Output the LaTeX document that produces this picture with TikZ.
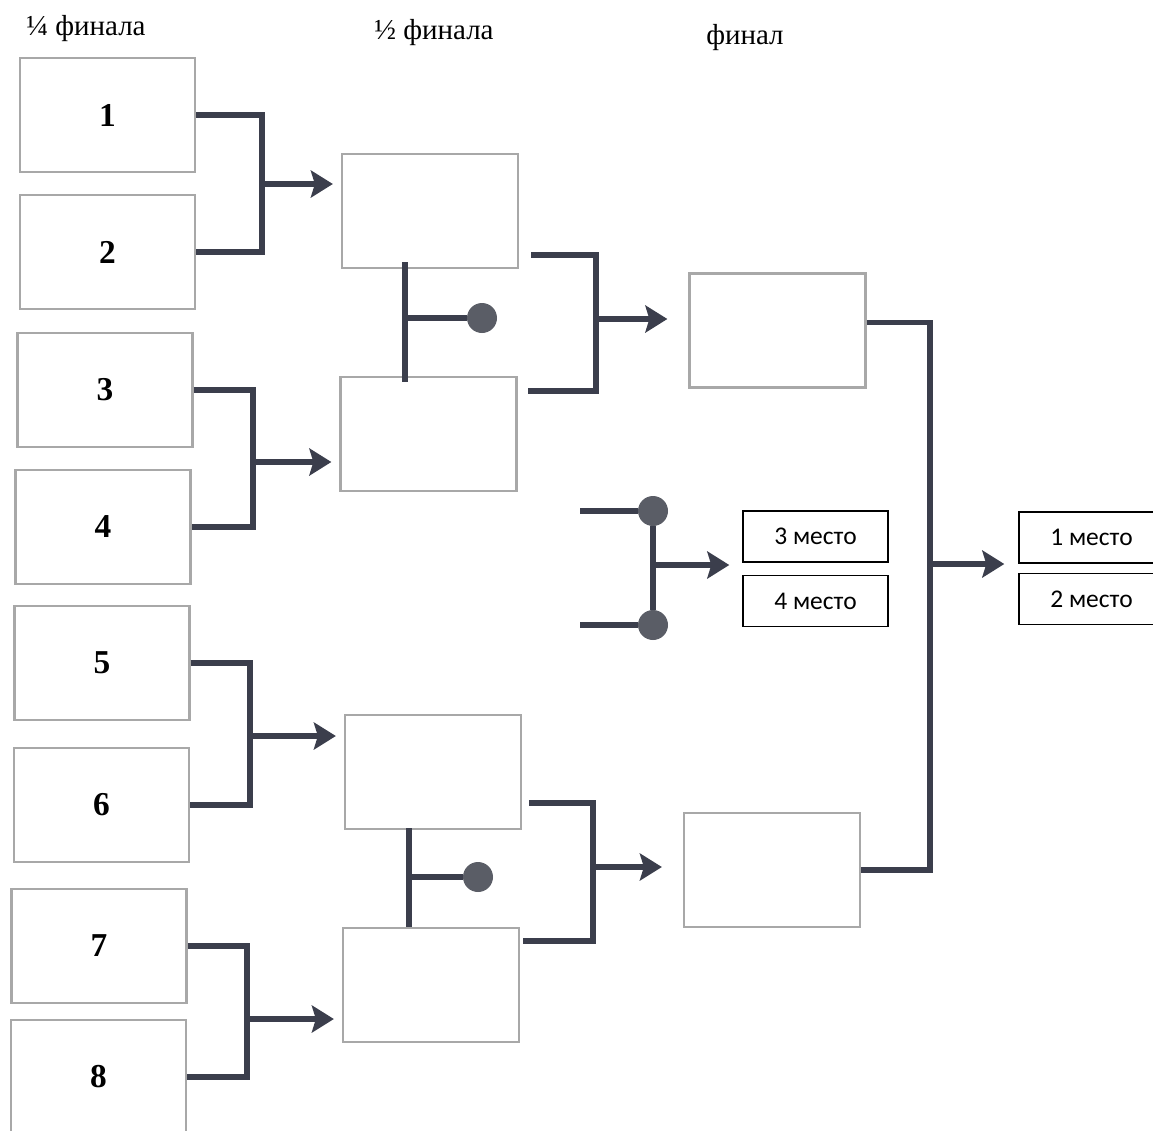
\documentclass[tikz,border=0pt]{standalone}
\usepackage{fontspec}
\setmainfont{Liberation Serif}
\newfontfamily\placefont{Carlito}
\usetikzlibrary{arrows.meta}

\definecolor{linkcol}{HTML}{3B3E4C}
\definecolor{dotcol}{HTML}{5A5D66}
\definecolor{boxcol}{HTML}{A8A8A8}

\begin{document}
\begin{tikzpicture}[x=0.02cm, y=-0.02cm,
    team/.style={draw=boxcol, line width=1.3pt, minimum width=3.5cm, minimum height=2.28cm,
        inner sep=0pt, font=\fontsize{19}{19}\selectfont\bfseries},
    slot/.style={draw=boxcol, line width=1.3pt, minimum width=3.52cm, minimum height=2.28cm, inner sep=0pt},
    place/.style={draw=black, line width=0.8pt, minimum width=2.9cm, minimum height=1.02cm,
        inner sep=0pt, font=\placefont\fontsize{14.5}{14.5}\selectfont},
    head/.style={font=\fontsize{16.5}{16.5}\selectfont},
    link/.style={draw=linkcol, line width=3.1pt},
    arr/.style={link, -{Stealth[length=0.44cm, width=0.54cm, inset=0.08cm]}},
    ball/.style={circle, fill=dotcol, minimum size=0.6cm, inner sep=0pt}]
        \useasboundingbox (0,0) rectangle (1153,1130);

        % headings
        \node[head] (H1) at (86,29) {¼ финала};
        \node[head] (H2) at (434,33) {½ финала};
        \node[head] (H3) at (745,38) {финал};

        % quarter-finals
        \node[team] (Q1) at (107.5,115) {1};
        \node[team] (Q2) at (107.5,252) {2};
        \node[team] (Q3) at (105,390) {3};
        \node[team] (Q4) at (103,527) {4};
        \node[team] (Q5) at (102,663) {5};
        \node[team] (Q6) at (101.5,805) {6};
        \node[team] (Q7) at (99,946) {7};
        \node[team] (Q8) at (98.5,1077) {8};

        % semi-finals and final
        \node[slot] (S1) at (430,211) {};
        \node[slot] (S2) at (428.5,434) {};
        \node[slot] (S3) at (433,772) {};
        \node[slot] (S4) at (431,985) {};
        \node[slot] (F1) at (777.5,330.5) {};
        \node[slot] (F2) at (772,870) {};

        % places
        \node[place] (P3) at (815.5,536.5) {3 место};
        \node[place] (P4) at (815.5,601) {4 место};
        \node[place] (P1) at (1091.5,537.5) {1 место};
        \node[place] (P2) at (1091.5,599) {2 место};

        % junctions
        \coordinate (J1) at (262,184);
        \coordinate (J2) at (253,462);
        \coordinate (J3) at (250,736);
        \coordinate (J4) at (247,1019);
        \coordinate (K1) at (596,319);
        \coordinate (K2) at (593,867);
        \coordinate (M) at (930,564);

        \draw[link] (Q1.east) -| (J1) |- (Q2.east);
        \draw[link] (Q3.east) -| (J2) |- (Q4.east);
        \draw[link] (Q5.east) -| (J3) |- (Q6.east);
        \draw[link] (Q7.east) -| (J4) |- (Q8.east);
        \draw[arr, shorten >=0.16cm] (J1) -- (J1 -| S1.west);
        \draw[arr, shorten >=0.16cm] (J2) -- (J2 -| S2.west);
        \draw[arr, shorten >=0.16cm] (J3) -- (J3 -| S3.west);
        \draw[arr, shorten >=0.16cm] (J4) -- (J4 -| S4.west);

        \draw[link] ([shift={(12,-14)}]S1.south east) -| (K1) |- ([shift={(10,15)}]S2.north east);
        \draw[link] ([shift={(7,-27)}]S3.south east) -| (K2) |- ([shift={(3,14)}]S4.north east);
        \draw[arr, shorten >=0.42cm] (K1) -- (K1 -| F1.west);
        \draw[arr, shorten >=0.42cm] (K2) -- (K2 -| F2.west);

        \draw[link] ([shift={(0,-8)}]F1.east) -| (M) |- (F2.east);
        \draw[arr, shorten >=0.28cm] (M) -- (M -| P1.west);

        % losers of the semi-finals
        \node[ball] (D1) at (482,318) {};
        \node[ball] (D2) at (478,877) {};
        \coordinate (V1a) at (405,262);
        \coordinate (V1b) at (405,382);
        \coordinate (V2a) at (409,828);
        \coordinate (V2b) at (409,927);
        \draw[link] (V1a) -- (V1b);
        \draw[link] (V1a |- D1) -- (D1);
        \draw[link] (V2a) -- (V2b);
        \draw[link] (V2a |- D2) -- (D2);

        % match for third place
        \node[ball] (T1) at (653,511) {};
        \node[ball] (T2) at (653,625) {};
        \coordinate (U1) at (580,511);
        \coordinate (U2) at (580,625);
        \coordinate (N) at (653,565);
        \draw[link] (U1) -- (T1);
        \draw[link] (U2) -- (T2);
        \draw[link] (T1) -- (T2);
        \draw[arr, shorten >=0.26cm] (N) -- (N -| P3.west);
    \end{tikzpicture}
\end{document}
